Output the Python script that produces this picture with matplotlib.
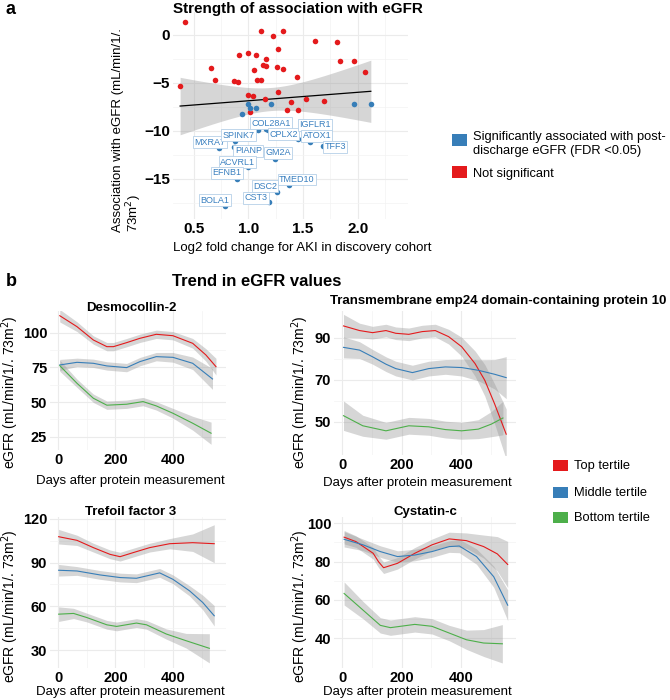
import numpy as np
import matplotlib
matplotlib.use("Agg")
import matplotlib.pyplot as plt
from matplotlib.patches import Rectangle

plt.rcParams['font.family'] = ['Liberation Sans', 'DejaVu Sans']

RED = '#E41A1C'
BLUE = '#377EB8'
GREEN = '#4DAF4A'

# ---------------- Panel a data ----------------
red_x = [0.376, 0.424, 0.656, 0.695, 0.872, 0.909, 0.915, 1.0, 1.07, 1.055, 1.077, 1.116,
         1.116, 1.16, 1.135, 1.16, 1.223, 1.275, 1.26, 1.315, 1.32, 1.275, 1.443, 1.61,
         1.814, 1.839, 1.97, 2.065, 1.0, 1.04, 1.153, 1.016, 1.357, 1.388, 1.452, 1.525, 1.688]
red_y = [-5.27, 1.34, -3.45, -4.65, -4.83, -4.9, -2.07, -1.93, -2.07, -3.65, -4.65, -4.65,
         0.45, -2.48, -3.17, -3.24, -0.07, -1.41, -3.34, 0.41, -3.52, -5.9, -4.34, -0.62,
         -0.72, -2.76, -2.72, -3.9, -6.24, -6.38, -6.72, -8.04, -7.86, -7.0, -7.86, -6.69, -6.93]

blue_x = [0.943, 0.997, 1.016, 1.071, 1.205, 1.967, 2.12, 1.178]
blue_y = [-8.2, -7.17, -7.66, -7.59, -7.17, -7.17, -7.2, -9.9]

genes = ['MXRA7', 'SPINK7', 'PIANP', 'ACVRL1', 'EFNB1', 'BOLA1', 'CST3', 'DSC2',
         'TMED10', 'GM2A', 'COL28A1', 'CPLX2', 'IGFLR1', 'ATOX1', 'TFF3']
gene_x = [0.733, 0.878, 0.872, 0.997, 0.897, 0.79, 1.19, 1.26, 1.376, 1.244, 1.086, 1.162,
          1.452, 1.562, 1.68]
gene_y = [-11.76, -11.03, -11.69, -13.8, -15.0, -17.83, -17.45, -16.42, -15.65, -12.93,
          -9.9, -9.83, -10.9, -11.14, -11.59]
# label anchor positions (data coords, as placed by the repel layout)
label_pos = [(0.65, -11.2), (0.908, -10.45), (1.0, -12.07), (0.9, -13.27), (0.802, -14.37),
             (0.695, -17.24), (1.07, -16.99), (1.153, -15.79), (1.443, -15.07), (1.269, -12.31),
             (1.208, -9.2), (1.32, -10.34), (1.61, -9.38), (1.626, -10.52), (1.793, -11.65)]

# ---------------- Panel b data ----------------
panels = ['Desmocollin-2', 'Transmembrane emp24 domain-containing protein 10',
          'Trefoil factor 3', 'Cystatin-c']
tertiles = ['Top tertile', 'Middle tertile', 'Bottom tertile']

dsc2_top_days = [6, 66, 123, 170, 193, 239, 285, 342, 400, 469, 515, 550]
dsc2_top = [112.2, 104.3, 94.7, 89.9, 89.9, 92.8, 95.9, 98.8, 97.8, 92.3, 83.9, 75.5]
dsc2_top_se = [4.5, 3.5, 3, 3, 3, 3, 3, 3, 3, 3.5, 4.5, 6]
dsc2_mid_days = [6, 66, 123, 170, 239, 285, 342, 400, 469, 538]
dsc2_mid = [76.7, 78.6, 77.9, 76.0, 74.8, 79.1, 82.7, 82.2, 77.9, 66.6]
dsc2_mid_se = [4, 3, 3, 3, 3, 3, 3, 3.5, 4.5, 7.5]
dsc2_bot_days = [6, 66, 123, 170, 239, 296, 342, 400, 469, 533]
dsc2_bot = [76.2, 63.5, 52.7, 47.7, 48.4, 50.3, 47.2, 41.9, 34.7, 27.5]
dsc2_bot_se = [4, 3, 3, 3, 3, 3, 3, 3.5, 5, 8]

tmed_top_days = [4, 58, 102, 147, 180, 224, 269, 313, 358, 402, 447, 480, 513, 552]
tmed_top = [95.6, 93.4, 92.4, 93.4, 92.1, 91.6, 92.9, 93.4, 90.5, 85.7, 77.7, 69.7, 58.5, 44.1]
tmed_top_se = [5.5, 3.5, 3, 3, 3, 3, 3, 3, 3.5, 4.5, 6, 7.5, 9.5, 12]
tmed_mid_days = [4, 58, 102, 147, 180, 236, 291, 347, 402, 458, 513, 552]
tmed_mid = [85.4, 84.1, 80.9, 77.4, 75.3, 73.4, 75.3, 76.1, 75.8, 74.5, 72.6, 71.0]
tmed_mid_se = [5, 4, 3.5, 3.5, 3.5, 3.5, 3.5, 3.5, 4, 5, 7, 10]
tmed_bot_days = [4, 69, 147, 224, 291, 347, 402, 458, 502, 541]
tmed_bot = [52.9, 48.1, 45.7, 48.1, 47.6, 46.3, 45.7, 46.5, 48.9, 51.8]
tmed_bot_se = [7, 5, 4, 4, 4, 4, 4, 4.5, 6, 8]

tff3_top_days = [2, 66, 123, 181, 216, 262, 319, 389, 469, 544]
tff3_top = [107.7, 105.2, 100.2, 95.6, 94.0, 96.8, 100.2, 102.9, 103.6, 102.9]
tff3_top_se = [5, 3.5, 3, 3, 3, 3, 3, 3.5, 6, 13]
tff3_mid_days = [2, 66, 146, 216, 273, 354, 400, 458, 504, 544]
tff3_mid = [84.7, 84.2, 81.5, 79.7, 79.2, 82.9, 78.5, 70.6, 62.6, 53.5]
tff3_mid_se = [4, 3, 3, 3, 3, 3, 3, 3.5, 5, 7]
tff3_bot_days = [2, 54, 100, 170, 204, 273, 308, 377, 446, 527]
tff3_bot = [54.6, 55.1, 52.3, 47.3, 46.2, 48.5, 47.3, 41.0, 36.4, 31.2]
tff3_bot_se = [5, 3.5, 3, 3, 3, 3, 3, 3.5, 5, 10]

cst3_top_days = [6, 46, 104, 122, 139, 186, 244, 302, 360, 418, 476, 522, 557]
cst3_top = [92.7, 90.4, 84.3, 79.9, 76.8, 79.1, 84.3, 88.7, 91.8, 90.9, 87.8, 84.0, 78.5]
cst3_top_se = [3.5, 3, 3, 3, 3, 3, 3, 3, 3.5, 4, 6, 9, 12]
cst3_mid_days = [6, 70, 128, 186, 244, 302, 360, 394, 452, 510, 557]
cst3_mid = [91.6, 88.7, 85.2, 82.6, 83.4, 85.2, 87.8, 88.1, 82.6, 72.1, 57.3]
cst3_mid_se = [4, 3, 3, 3, 3, 3, 3, 3.5, 4, 5.5, 8]
cst3_bot_days = [6, 70, 128, 162, 244, 302, 360, 418, 476, 539]
cst3_bot = [63.4, 54.7, 46.8, 45.6, 47.3, 46.3, 42.8, 39.3, 37.6, 37.2]
cst3_bot_se = [6, 4.5, 4, 4, 4, 4, 4, 5, 7, 10]

panel_data = [
    [(dsc2_top_days, dsc2_top, dsc2_top_se), (dsc2_mid_days, dsc2_mid, dsc2_mid_se),
     (dsc2_bot_days, dsc2_bot, dsc2_bot_se)],
    [(tmed_top_days, tmed_top, tmed_top_se), (tmed_mid_days, tmed_mid, tmed_mid_se),
     (tmed_bot_days, tmed_bot, tmed_bot_se)],
    [(tff3_top_days, tff3_top, tff3_top_se), (tff3_mid_days, tff3_mid, tff3_mid_se),
     (tff3_bot_days, tff3_bot, tff3_bot_se)],
    [(cst3_top_days, cst3_top, cst3_top_se), (cst3_mid_days, cst3_mid, cst3_mid_se),
     (cst3_bot_days, cst3_bot, cst3_bot_se)],
]
panel_yticks = [[25, 50, 75, 100], [50, 70, 90], [30, 60, 90, 120], [40, 60, 80, 100]]

# ---------------- Figure ----------------
W, H = 670, 700
fig = plt.figure(figsize=(W / 100, H / 100), dpi=100)


def add_ax(l, t, r, b):
    return fig.add_axes([l / W, 1 - b / H, (r - l) / W, (b - t) / H])


def ftext(px, py, s, **kw):
    fig.text(px / W, 1 - py / H, s, **kw)


def style(ax, fs):
    for sp in ax.spines.values():
        sp.set_visible(False)
    ax.tick_params(which='both', length=0, labelsize=fs, pad=2)
    for lab in ax.get_xticklabels() + ax.get_yticklabels():
        lab.set_fontweight('bold')
    ax.grid(True, which='major', color='#EBEBEB', lw=0.8)
    ax.grid(True, which='minor', color='#F3F3F3', lw=0.5)
    ax.set_axisbelow(True)


# ---- panel a ----
axa = add_ax(173, 12, 408, 219)
allx = np.array(red_x + blue_x + gene_x)
ally = np.array(red_y + blue_y + gene_y)
n = len(allx)
b1, b0 = np.polyfit(allx, ally, 1)
resid = ally - (b0 + b1 * allx)
s = np.sqrt(np.sum(resid ** 2) / (n - 2))
xg = np.linspace(allx.min(), allx.max(), 100)
se = s * np.sqrt(1 / n + (xg - allx.mean()) ** 2 / np.sum((allx - allx.mean()) ** 2))
yg = b0 + b1 * xg
axa.fill_between(xg, yg - 2.0 * se, yg + 2.0 * se, color='#999999', alpha=0.4, lw=0, zorder=1)
axa.plot(xg, yg, color='black', lw=0.9, zorder=2)
axa.scatter(red_x, red_y, s=16, color=RED, lw=0, zorder=3)
axa.scatter(blue_x, blue_y, s=16, color=BLUE, lw=0, zorder=3)
axa.scatter(gene_x, gene_y, s=16, color=BLUE, lw=0, zorder=3)
for g, (lx, ly) in zip(genes, label_pos):
    axa.text(lx, ly, g, fontsize=6.5, color='#3A80C0', ha='center', va='center', zorder=4,
             bbox=dict(boxstyle='square,pad=0.15', fc='white', ec='#B5D0E8', lw=0.6))
axa.set_xlim(0.311, 2.46)
axa.set_ylim(-19.2, 2.4)
axa.set_xticks([0.5, 1.0, 1.5, 2.0])
axa.set_xticks([0.75, 1.25, 1.75, 2.25], minor=True)
axa.set_yticks([0, -5, -10, -15])
axa.set_yticks([-2.5, -7.5, -12.5, -17.5], minor=True)
style(axa, 11)
ftext(173, 9, 'Strength of association with eGFR', fontsize=11, fontweight='bold',
      ha='left', va='center')
ftext(302, 248, 'Log2 fold change for AKI in discovery cohort', fontsize=9.5,
      ha='center', va='center')
ftext(128, 130, 'Association with eGFR (mL/min/1/.\n73m$^2$)', fontsize=9.5, rotation=90,
      ha='center', va='center', multialignment='left', linespacing=1.05)
ftext(6, 10, 'a', fontsize=13, fontweight='bold', ha='left', va='center')

# legend a
for (ky, col) in [(140, BLUE), (172, RED)]:
    fig.patches.append(Rectangle((452 / W, 1 - (ky + 6) / H), 15 / W, 12 / H, fc=col, ec='none',
                                 transform=fig.transFigure, figure=fig))
ftext(473, 144, 'Significantly associated with post-\ndischarge eGFR (FDR <0.05)', fontsize=9.3,
      ha='left', va='center', linespacing=1.15)
ftext(473, 174, 'Not significant', fontsize=9.3, ha='left', va='center')

# ---- panel b ----
ftext(6, 282, 'b', fontsize=13, fontweight='bold', ha='left', va='center')
ftext(172, 282, 'Trend in eGFR values', fontsize=12, fontweight='bold', ha='left', va='center')

rects = [(50, 311, 226, 450), (334, 311, 516, 455), (50, 517, 226, 668), (334, 517, 516, 668)]
panel_ylim = [(15.4, 115.6), (34.2, 102.7), (17.7, 121.2), (24.6, 103.2)]
ylab_x = [10, 300, 10, 300]
ylab_y = [392, 392, 606, 606]
xlab_y = [481, 483, 692, 692]
title_pos = [(131, 308, 'center'), (330, 301, 'left'), (131, 512, 'center'), (425, 512, 'center')]
cols = [RED, BLUE, GREEN]
for i, (rect, name) in enumerate(zip(rects, panels)):
    ax = add_ax(*rect)
    for (d, v, e), c in zip(panel_data[i], cols):
        d = np.array(d); v = np.array(v); e = np.array(e)
        ax.fill_between(d, v - e, v + e, color='#999999', alpha=0.4, lw=0, zorder=1)
    for (d, v, e), c in zip(panel_data[i], cols):
        ax.plot(d, v, color=c, lw=0.8, zorder=2)
    ax.set_xlim(-28, 585)
    ax.set_ylim(*panel_ylim[i])
    ax.set_xticks([0, 200, 400])
    ax.set_xticks([100, 300, 500], minor=True)
    yt = panel_yticks[i]
    ax.set_yticks(yt)
    ax.set_yticks([(a + b) / 2 for a, b in zip(yt[:-1], yt[1:])], minor=True)
    style(ax, 10.5)
    l, t, r, b = rect
    cx = (l + r) / 2
    tx, ty, ha = title_pos[i]
    ftext(tx, ty, name, fontsize=9.5, fontweight='bold', ha=ha, va='center')
    ftext(cx - 8, xlab_y[i], 'Days after protein measurement', fontsize=9.5, ha='center',
          va='center')
    ftext(ylab_x[i], ylab_y[i], 'eGFR (mL/min/1/. 73m$^2$)', fontsize=10, rotation=90,
          ha='center', va='center')

# legend b
for ky, col, lab in [(465, RED, 'Top tertile'), (492, BLUE, 'Middle tertile'),
                     (517, GREEN, 'Bottom tertile')]:
    fig.patches.append(Rectangle((553 / W, 1 - (ky + 5.5) / H), 15 / W, 11 / H, fc=col, ec='none',
                                 transform=fig.transFigure, figure=fig))
    ftext(574, ky + 1, lab, fontsize=9.3, ha='left', va='center')

fig.savefig('out.png', dpi=100)
